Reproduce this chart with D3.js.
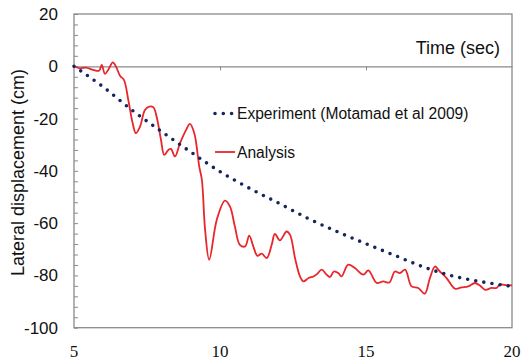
<!DOCTYPE html>
<html>
<head>
<meta charset="utf-8">
<script src="https://cdn.jsdelivr.net/npm/d3@7"></script>
<style>
body { margin: 0; background: #fff; }
svg { display: block; }
</style>
</head>
<body>
<script>
// experiment (dotted) readings
var expTime = [5, 6, 7, 8, 9, 10, 11, 12, 13, 14, 15, 16, 17, 18, 19, 20];
var expDisp = [0, -7.9, -16.9, -25, -32.8, -40.3, -46.6, -52.3, -58.1, -63.2, -67.9, -72.4, -76.9, -80.3, -82.5, -84.2];

// analysis (red) readings
var anaTime = [5.00, 5.21, 5.41, 5.66, 5.86, 5.95, 6.06, 6.17, 6.33, 6.44, 6.58, 6.71, 6.86, 7.01, 7.12, 7.26,
    7.43, 7.58, 7.72, 7.83, 7.98, 8.09, 8.23, 8.32, 8.46, 8.63, 8.84, 8.97, 9.12, 9.29, 9.38, 9.49, 9.63,
    9.89, 10.17, 10.34, 10.51, 10.68, 10.86, 11.00, 11.14, 11.28, 11.43, 11.60, 11.77, 11.88, 12.05, 12.28,
    12.40, 12.57, 12.74, 12.86, 13.03, 13.20, 13.33, 13.48, 13.65, 13.77, 13.90, 14.05, 14.16, 14.39, 14.62,
    14.91, 15.08, 15.37, 15.59, 15.80, 15.99, 16.16, 16.34, 16.56, 16.79, 17.01, 17.19, 17.36, 17.53, 17.76,
    18.05, 18.27, 18.50, 18.73, 18.90, 19.08, 19.30, 19.47, 19.59, 19.82, 20.00];
var anaDisp = [0, -0.8, -0.5, -1.4, -1.7, 0.5, -2.9, -1.4, 1.5, -0.2, -3.7, -5.2, -12.9, -21.8, -25.6, -23.1,
    -16.7, -15.4, -15.7, -19.3, -28.2, -33.9, -32.0, -31.6, -34.5, -29.4, -24.3, -22.0, -25.6, -38.4, -43.5, -62.6, -74.0,
    -58.7, -51.4, -53.6, -61.3, -68.3, -68.9, -64.8, -68.9, -72.5, -71.7, -73.4, -68.3, -64.1, -66.6, -63.2,
    -64.5, -73.4, -80.4, -82.3, -81.0, -80.4, -79.4, -77.8, -79.7, -80.6, -78.5, -79.1, -80.4, -75.9, -77.2,
    -79.7, -78.1, -82.9, -82.3, -82.7, -78.5, -79.1, -77.8, -84.2, -84.8, -87.0, -81.0, -76.6, -78.5, -81.0,
    -85.1, -84.6, -84.2, -82.9, -83.9, -85.5, -84.8, -84.8, -83.5, -83.8, -83.8];

var yMajor = [20, 0, -20, -40, -60, -80, -100];
var xLabels = [5, 10, 15, 20];
var legendNames = ["Experiment (Motamad et al 2009)", "Analysis"];

var width = 521, height = 363;
var plotLeft = 74, plotRight = 512, plotTop = 14, plotBottom = 327.7;

var svg = d3.select("body").append("svg")
    .attr("width", width)
    .attr("height", height);

var x = d3.scaleLinear().domain([5, 20]).range([plotLeft, plotRight]);
var y = d3.scaleLinear().domain([-100, 20]).range([plotBottom, plotTop]);

var gray = "#8a8a8a";
var navy = "#16255c";
var red = "#e8262b";

// frame
svg.append("rect")
    .attr("x", plotLeft).attr("y", plotTop)
    .attr("width", plotRight - plotLeft).attr("height", plotBottom - plotTop)
    .attr("fill", "none").attr("stroke", gray).attr("stroke-width", 1.3);

// minor inward ticks on left axis
var yTicks = d3.range(20, -101, -4);
var gy = svg.append("g")
    .attr("transform", "translate(" + plotLeft + ",0)")
    .call(d3.axisLeft(y).tickValues(yTicks).tickSize(-4).tickFormat(""));
gy.select(".domain").remove();
gy.selectAll("line").attr("stroke", gray);

// y tick labels (plain hyphen for minus)
var gyl = svg.append("g")
    .attr("transform", "translate(" + plotLeft + ",0)")
    .call(d3.axisLeft(y).tickValues(yMajor).tickSize(0).tickPadding(16)
        .tickFormat(function(d){ return String(d); }));
gyl.select(".domain").remove();
gyl.selectAll("text")
    .attr("font-family", "Liberation Sans, Arial, sans-serif")
    .attr("font-size", 17)
    .attr("fill", "#111");

// zero axis line with ticks
var gx0 = svg.append("g")
    .attr("transform", "translate(0," + y(0) + ")")
    .call(d3.axisBottom(x).tickValues([10, 15]).tickSize(4).tickSizeOuter(0).tickFormat(""));
gx0.select(".domain").attr("stroke", gray).attr("stroke-width", 1.2);
gx0.selectAll("line").attr("stroke", gray);

// x tick labels below the frame
svg.append("g").selectAll("text")
    .data(xLabels)
    .join("text")
    .attr("x", function(d){ return x(d); })
    .attr("y", 351)
    .attr("text-anchor", "middle")
    .attr("dominant-baseline", "central")
    .attr("font-family", "Liberation Serif, Times New Roman, serif")
    .attr("font-size", 17)
    .attr("fill", "#111")
    .text(function(d){ return d; });

// axis titles
svg.append("text")
    .attr("x", 500).attr("y", 47.5)
    .attr("text-anchor", "end")
    .attr("dominant-baseline", "central")
    .attr("font-family", "Liberation Sans, Arial, sans-serif")
    .attr("font-size", 18)
    .attr("fill", "#111")
    .text("Time (sec)");

svg.append("text")
    .attr("transform", "translate(24,172.5) rotate(-90)")
    .attr("text-anchor", "middle")
    .attr("font-family", "Liberation Sans, Arial, sans-serif")
    .attr("font-size", 18)
    .attr("fill", "#111")
    .text("Lateral displacement (cm)");

// series
var expLine = d3.line()
    .x(function(d, i){ return x(expTime[i]); })
    .y(function(d){ return y(d); })
    .curve(d3.curveMonotoneX);

var anaLine = d3.line()
    .x(function(d, i){ return x(anaTime[i]); })
    .y(function(d){ return y(d); })
    .curve(d3.curveCatmullRom.alpha(0.5));

svg.append("path")
    .attr("d", anaLine(anaDisp))
    .attr("fill", "none")
    .attr("stroke", red)
    .attr("stroke-width", 1.8);

svg.append("path")
    .attr("d", expLine(expDisp))
    .attr("fill", "none")
    .attr("stroke", navy)
    .attr("stroke-width", 3.6)
    .attr("stroke-linecap", "round")
    .attr("stroke-dasharray", "0 8.2");

// legend
var legendY = [113.5, 152];
svg.append("line")
    .attr("x1", 215).attr("x2", 233)
    .attr("y1", legendY[0]).attr("y2", legendY[0])
    .attr("stroke", navy).attr("stroke-width", 3.6)
    .attr("stroke-linecap", "round").attr("stroke-dasharray", "0 8.3");
svg.append("line")
    .attr("x1", 215).attr("x2", 235)
    .attr("y1", legendY[1]).attr("y2", legendY[1])
    .attr("stroke", red).attr("stroke-width", 1.8);

svg.append("g").selectAll("text")
    .data(legendNames)
    .join("text")
    .attr("x", 237)
    .attr("y", function(d, i){ return legendY[i]; })
    .attr("dominant-baseline", "central")
    .attr("font-family", "Liberation Sans, Arial, sans-serif")
    .attr("font-size", 15.6)
    .attr("fill", "#111")
    .text(function(d){ return d; });
</script>
</body>
</html>
